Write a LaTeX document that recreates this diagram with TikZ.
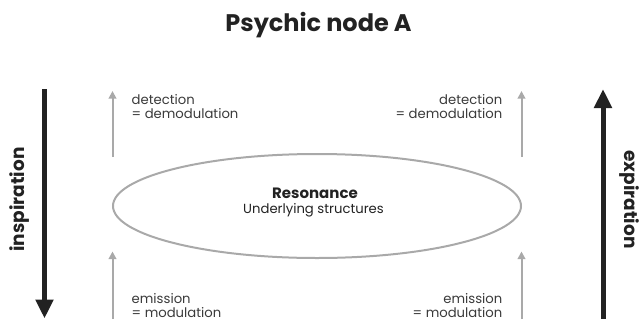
\documentclass[tikz,border=0pt]{standalone}
\usepackage{fontspec}
\setmainfont{Poppins}
\usetikzlibrary{arrows.meta,shapes.geometric}
\definecolor{inkdark}{HTML}{222222}
\definecolor{softgray}{HTML}{A9A9A9}
\definecolor{labelgray}{HTML}{3A3A3A}
\begin{document}
\begin{tikzpicture}[x=1pt,y=-1pt,
  breath/.style={line width=5pt, draw=inkdark, -{Triangle[length=19pt,width=17pt]}},
  signal/.style={line width=2pt, draw=softgray, -{Triangle[length=7.5pt,width=7.5pt]}},
  breathlabel/.style={font=\fontsize{18.5}{22}\selectfont\bfseries, text=inkdark, inner sep=0pt},
  sidelabel/.style={font=\fontsize{13.2}{15}\selectfont, text=labelgray, inner sep=0pt},
  title/.style={font=\fontsize{24}{28}\selectfont\bfseries, text=inkdark, inner sep=0pt}
]
\useasboundingbox (0,0) rectangle (640,322);

% heading
\node[title, anchor=base] (title) at (318.5,31) {Psychic node A};

% breathing directions
\coordinate (inTop) at (44.5,89);
\coordinate (inBot) at (44.5,318.5);
\coordinate (exBot) at (603,318.5);
\coordinate (exTop) at (603,89);
\draw[breath] (inTop) -- (inBot);
\draw[breath] (exBot) -- (exTop);
\node[breathlabel, rotate=90] (insp) at (19.2,199.5) {inspiration};
\node[breathlabel, rotate=-90] (exp) at (629,199.5) {expiration};

% resonance field
\node[draw=softgray, line width=2pt, ellipse, minimum width=408pt, minimum height=104pt, inner sep=0pt] (res) at (317,206) {};
\node[font=\fontsize{15}{18}\selectfont\bfseries, text=inkdark, inner sep=0pt, anchor=base] (resA) at (315,198.5) {Resonance};
\node[sidelabel, text=inkdark, anchor=base] (resB) at (313.5,213.3) {Underlying structures};

% signal arrows
\coordinate (ulA) at (112.5,157);
\coordinate (ulB) at (112.5,91);
\coordinate (llA) at (112.5,319);
\coordinate (llB) at (112.5,251.5);
\coordinate (urA) at (521.5,157);
\coordinate (urB) at (521.5,91);
\coordinate (lrA) at (521.5,319);
\coordinate (lrB) at (521.5,251.5);
\draw[signal] (ulA) -- (ulB);
\draw[signal] (llA) -- (llB);
\draw[signal] (urA) -- (urB);
\draw[signal] (lrA) -- (lrB);

% side labels
\node[sidelabel, anchor=base west] (detL1) at (131.5,104) {detection};
\node[sidelabel, anchor=base west] (detL2) at (131.5,118.5) {= demodulation};
\node[sidelabel, anchor=base east] (detR1) at (502.5,104) {detection};
\node[sidelabel, anchor=base east] (detR2) at (502.5,118.5) {= demodulation};
\node[sidelabel, anchor=base west] (emiL1) at (131.5,303.3) {emission};
\node[sidelabel, anchor=base west] (emiL2) at (131.5,317.5) {= modulation};
\node[sidelabel, anchor=base east] (emiR1) at (502.5,303.3) {emission};
\node[sidelabel, anchor=base east] (emiR2) at (502.5,317.5) {= modulation};
\end{tikzpicture}
\end{document}
